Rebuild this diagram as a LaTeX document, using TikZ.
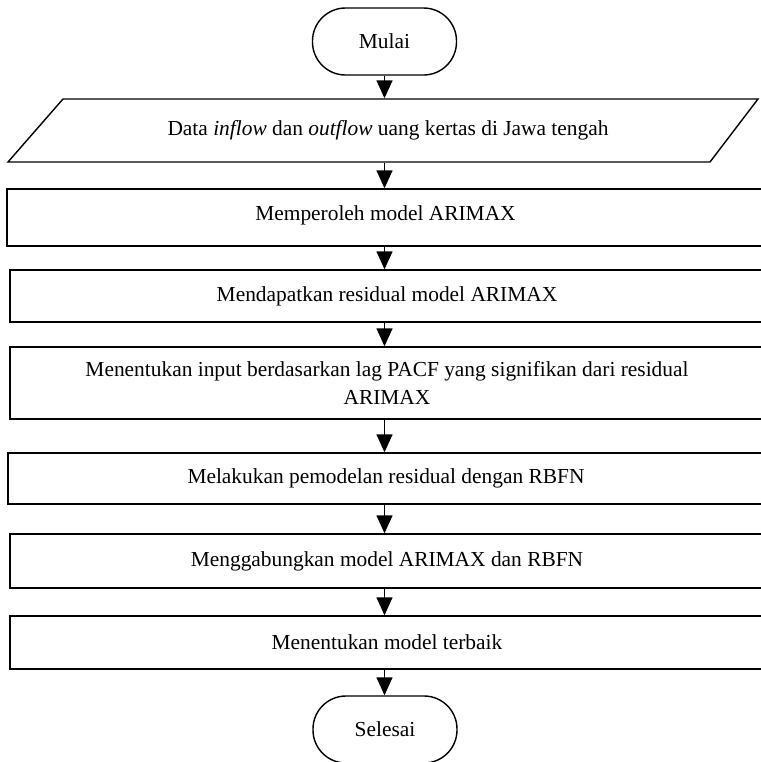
\documentclass[tikz,border=0pt]{standalone}
\usepackage{fontspec}
\setmainfont{Liberation Serif}
\usetikzlibrary{arrows.meta}
\begin{document}
\begin{tikzpicture}[x=0.5pt,y=-0.5pt,
  font=\fontsize{10.7}{14}\selectfont,
  line width=0.7pt,
  terminal/.style={draw, rounded corners=16.5pt, minimum width=72pt, minimum height=33.5pt, inner sep=0pt},
  stepbox/.style={draw, minimum height=#1, inner sep=0pt, align=center},
  arr/.style={-{Triangle[width=8pt,length=9pt]}}]
\useasboundingbox (0,0) rectangle (761,762);

% start / end terminals
\node[terminal] (start) at (384.5,41.5) {Mulai};
\node[terminal] (stop) at (385,729.5) {Selesai};

% input parallelogram
\draw (8,162) -- (63,99) -- (758,99) -- (710,162) -- cycle;
\node[minimum height=31.5pt, minimum width=300pt, inner sep=0pt] (inp) at (388,130.5)
  {Data \textit{inflow} dan \textit{outflow} uang kertas di Jawa tengah};

% process steps (right edges run off the page)
\node[stepbox=28.5pt, minimum width=378.5pt] (b1) at (385.5,217.5) {\raisebox{4pt}{Memperoleh model ARIMAX}};
\node[stepbox=26pt, minimum width=377pt] (b2) at (387,296) {Mendapatkan residual model ARIMAX};
\node[stepbox=36pt, minimum width=377pt] (b3) at (387,383)
  {Menentukan input berdasarkan lag PACF yang signifikan dari residual\\ARIMAX};
\node[stepbox=25.5pt, minimum width=378pt] (b4) at (386,478.5) {Melakukan pemodelan residual dengan RBFN};
\node[stepbox=27pt, minimum width=377pt] (b5) at (387,561) {Menggabungkan model ARIMAX dan RBFN};
\node[stepbox=26.5pt, minimum width=377pt] (b6) at (387,642.5) {Menentukan model terbaik};

% connectors
\draw[arr] (start.south) -- (inp.north -| start.south);
\draw[arr] (inp.south -| start.south) -- (b1.north -| start.south);
\draw[arr] (b1.south -| start.south) -- (b2.north -| start.south);
\draw[arr] (b2.south -| start.south) -- (b3.north -| start.south);
\draw[arr] (b3.south -| start.south) -- (b4.north -| start.south);
\draw[arr] (b4.south -| start.south) -- (b5.north -| start.south);
\draw[arr] (b5.south -| start.south) -- (b6.north -| start.south);
\draw[arr] (b6.south -| start.south) -- (stop.north -| start.south);
\end{tikzpicture}
\end{document}
